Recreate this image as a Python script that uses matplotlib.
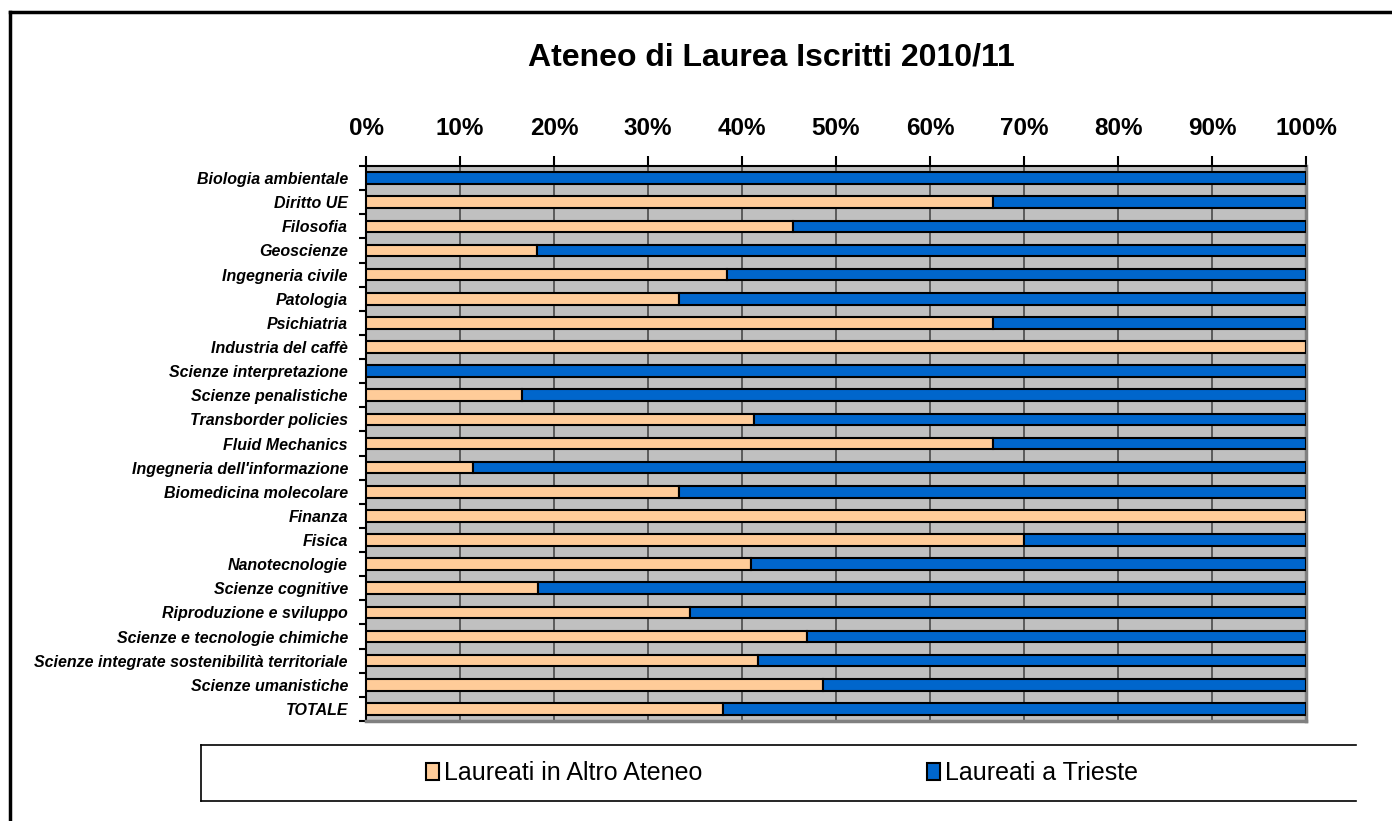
import numpy as np
import matplotlib
matplotlib.use('Agg')
import matplotlib.pyplot as plt
from matplotlib.ticker import PercentFormatter, FixedLocator
from matplotlib.lines import Line2D

matplotlib.rcParams['font.family'] = ['Liberation Sans', 'DejaVu Sans']

categories = ['Biologia ambientale', 'Diritto UE', 'Filosofia', 'Geoscienze',
              'Ingegneria civile', 'Patologia', 'Psichiatria', 'Industria del caffè',
              'Scienze interpretazione', 'Scienze penalistiche', 'Transborder policies',
              'Fluid Mechanics', "Ingegneria dell'informazione", 'Biomedicina molecolare',
              'Finanza', 'Fisica', 'Nanotecnologie', 'Scienze cognitive',
              'Riproduzione e sviluppo', 'Scienze e tecnologie chimiche',
              'Scienze integrate sostenibilità territoriale', 'Scienze umanistiche',
              'TOTALE']
# share of graduates from another university (%)
altro_ateneo = [0.0, 66.7, 45.4, 18.2, 38.4, 33.3, 66.7, 100.0,
                0.0, 16.6, 41.3, 66.7, 11.4, 33.3,
                100.0, 70.0, 41.0, 18.3, 34.5, 46.9,
                41.7, 48.6, 38.0]
trieste = [100.0 - v for v in altro_ateneo]
series_names = ['Laureati in Altro Ateneo', 'Laureati a Trieste']
colors = ['#FFCC99', '#0066CC']

W, H = 1392, 821
fig = plt.figure(figsize=(W / 100, H / 100), dpi=100)
fig.patch.set_facecolor('white')
ax = fig.add_axes([366 / W, 1 - 721 / H, (1306 - 366) / W, (721 - 166) / H])
ax.set_facecolor('#C0C0C0')

y = np.arange(len(categories))
a = np.array(altro_ateneo) / 100
t = np.array(trieste) / 100
b1 = ax.barh(y, a, height=0.48, color=colors[0], edgecolor='black',
             linewidth=1.5, label=series_names[0], zorder=3)
b2 = ax.barh(y, t, left=a, height=0.48, color=colors[1], edgecolor='black',
             linewidth=1.5, label=series_names[1], zorder=3)

ax.set_xlim(0, 1)
ax.set_ylim(len(categories) - 0.5, -0.5)
ax.xaxis.tick_top()
ax.set_xticks(np.linspace(0, 1, 11))
ax.xaxis.set_major_formatter(PercentFormatter(1.0, decimals=0))
ax.tick_params(axis='x', direction='out', length=7, width=1.5, pad=12,
               labelsize=17.5, color='black')
for lbl in ax.get_xticklabels():
    lbl.set_fontweight('bold')
ax.set_yticks(y)
ax.set_yticklabels(categories, fontsize=11.5, fontstyle='italic', fontweight='bold')
ax.tick_params(axis='y', length=0, pad=13)
ax.yaxis.set_minor_locator(FixedLocator(np.arange(len(categories) + 1) - 0.5))
ax.tick_params(axis='y', which='minor', direction='out', length=5, width=1.5,
               color='black')
ax.grid(axis='x', color='#404040', linewidth=1.1, zorder=1)
ax.set_axisbelow(True)

for side in ['top', 'left']:
    ax.spines[side].set_color('black')
    ax.spines[side].set_linewidth(1.5)
for side in ['right', 'bottom']:
    ax.spines[side].set_color('#808080')
    ax.spines[side].set_linewidth(2.5)

fig.text(771 / W, 1 - 57 / H, 'Ateneo di Laurea Iscritti 2010/11',
         ha='center', va='center', fontsize=23, fontweight='bold')

leg = fig.legend(handles=[b1, b2], loc='center', bbox_to_anchor=(782 / W, 1 - 773 / H),
                 ncol=2, frameon=False, fontsize=18, handlelength=0.5,
                 handleheight=0.7, handletextpad=0.2, columnspacing=9.0)

# legend box (open on the right, as in the source)
lx0, lx1, ly0, ly1 = 201 / W, 1356 / W, 1 - 801 / H, 1 - 745 / H
for xs, ys in [([lx0, lx1], [ly1, ly1]), ([lx0, lx1], [ly0, ly0]), ([lx0, lx0], [ly0, ly1])]:
    fig.add_artist(Line2D(xs, ys, color='black', linewidth=1.2, transform=fig.transFigure))

# outer chart frame
fig.add_artist(Line2D([10 / W, 1.0], [1 - 12 / H, 1 - 12 / H], color='black',
                      linewidth=2.5, transform=fig.transFigure))
fig.add_artist(Line2D([10 / W, 10 / W], [0.0, 1 - 12 / H], color='black',
                      linewidth=2.5, transform=fig.transFigure))

fig.savefig('out.png', dpi=100)
